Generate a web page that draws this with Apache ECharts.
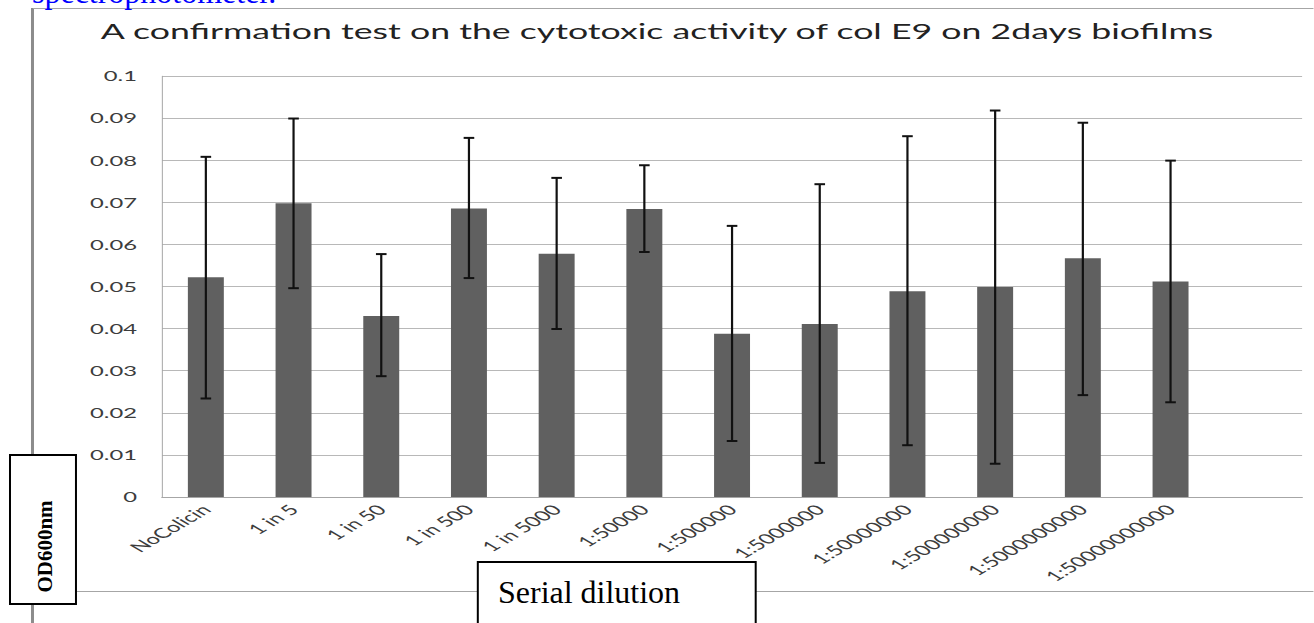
<!DOCTYPE html>
<html>
<head>
<meta charset="utf-8">
<title>Cytotoxic activity of col E9 on 2-day biofilms</title>
<script src="https://cdn.jsdelivr.net/npm/echarts@6/dist/echarts.min.js"></script>
<style>
  html, body { margin: 0; padding: 0; background: #ffffff; overflow: hidden; }
  #page { position: relative; width: 1314px; height: 623px; overflow: hidden; }
  /* the embedded chart is stretched horizontally, as in the source document */
  #chart { position: absolute; left: 0; top: 0; height: 623px; transform-origin: 0 0; }
</style>
</head>
<body>
<div id="page"><div id="chart"></div></div>
<script>
// Dilution series tested against 2-day biofilms
const categories = ['NoColicin', '1 in 5', '1 in 50', '1 in 500', '1 in 5000', '1:50000',
  '1:500000', '1:5000000', '1:50000000', '1:500000000', '1:5000000000', '1:50000000000'];

// Mean OD600 per dilution
const meanOD = [0.0522, 0.0698, 0.0430, 0.0685, 0.0578, 0.0684,
  0.0388, 0.0411, 0.0489, 0.0499, 0.0567, 0.0512];

// Error bar ends (lower / upper)
const errLow  = [0.0234, 0.0496, 0.0287, 0.0520, 0.0399, 0.0582,
  0.0133, 0.0081, 0.0123, 0.0079, 0.0242, 0.0225];
const errHigh = [0.0808, 0.0899, 0.0577, 0.0853, 0.0758, 0.0788,
  0.0644, 0.0743, 0.0857, 0.0918, 0.0889, 0.0799];

const yTickLabels = ['0', '0.01', '0.02', '0.03', '0.04', '0.05', '0.06', '0.07', '0.08', '0.09', '0.1'];

const titleText = 'A confirmation test on the cytotoxic activity of col E9 on 2days biofilms';

// horizontal stretch of the embedded chart
const K = 1.7;
const W = 1314, H = 623;

const el = document.getElementById('chart');
el.style.width = (W / K) + 'px';
el.style.transform = 'scaleX(' + K + ')';

const chart = echarts.init(el, null, { renderer: 'svg' });

const errData = categories.map((c, i) => [i, errLow[i], errHigh[i]]);
const capHalf = 5.3 / K;

const font = 'Lato, "Open Sans", sans-serif';
const serif = '"Liberation Serif", "Times New Roman", serif';

chart.setOption({
  backgroundColor: '#ffffff',
  animation: false,
  title: {
    text: titleText,
    left: 'center',
    top: 15,
    textStyle: { fontFamily: font, fontSize: 21, fontWeight: 'normal', color: '#222222' }
  },
  grid: { left: 162 / K, right: 12 / K, top: 76, bottom: 126, containLabel: false },
  xAxis: {
    type: 'category',
    data: categories.concat(['']),
    axisLine: { lineStyle: { color: '#a6a6a6', width: 1 } },
    axisTick: { show: false },
    axisLabel: {
      interval: 0, rotate: 45, margin: 10,
      fontFamily: font, fontSize: 14, color: '#3c3c3c'
    }
  },
  yAxis: {
    type: 'value',
    min: 0, max: 0.1, interval: 0.01,
    axisLine: { show: true, lineStyle: { color: '#a6a6a6', width: 1 / K } },
    axisTick: { show: false },
    splitLine: { lineStyle: { color: '#b8b8b8', width: 1 } },
    axisLabel: {
      margin: 25 / K, fontFamily: font, fontSize: 14, color: '#3c3c3c',
      formatter: (v, idx) => yTickLabels[idx]
    }
  },
  series: [
    {
      type: 'bar',
      data: meanOD,
      barWidth: '41%',
      itemStyle: { color: '#606060' }
    },
    {
      type: 'custom',
      data: errData,
      encode: { x: 0, y: [1, 2] },
      z: 5,
      renderItem: (params, api) => {
        const i = api.value(0);
        const lo = api.coord([i, api.value(1)]);
        const hi = api.coord([i, api.value(2)]);
        const stroke = '#111111';
        return {
          type: 'group',
          children: [
            { type: 'line', shape: { x1: lo[0], y1: lo[1], x2: hi[0], y2: hi[1] },
              style: { stroke, lineWidth: 2.2 / K } },
            { type: 'line', shape: { x1: hi[0] - capHalf, y1: hi[1], x2: hi[0] + capHalf, y2: hi[1] },
              style: { stroke, lineWidth: 2 } },
            { type: 'line', shape: { x1: lo[0] - capHalf, y1: lo[1], x2: lo[0] + capHalf, y2: lo[1] },
              style: { stroke, lineWidth: 2 } }
          ]
        };
      }
    }
  ],
  graphic: {
    elements: [
      {
        // page elements drawn at natural proportions (undo the chart stretch)
        type: 'group',
        x: 0, y: 0, scaleX: 1 / K, z: 100,
        children: [
          { type: 'rect', shape: { x: 31, y: 8, width: 3, height: 620 },
            style: { fill: '#8c8c8c' } },
          { type: 'line', shape: { x1: 33, y1: 8.5, x2: W, y2: 8.5 },
            style: { stroke: '#a6a6a6', lineWidth: 1 } },
          { type: 'line', shape: { x1: 33, y1: 591.5, x2: W, y2: 591.5 },
            style: { stroke: '#a6a6a6', lineWidth: 1 } },
          { type: 'text', x: 32, y: -8.5,
            style: { text: 'spectrophotometer.', fill: '#0000ff', fontFamily: serif, fontSize: 32,
              align: 'left', verticalAlign: 'middle', textAlign: 'left', textVerticalAlign: 'middle' } },
          { type: 'rect', shape: { x: 10, y: 455, width: 66, height: 149 },
            style: { fill: '#ffffff', stroke: '#000000', lineWidth: 2 } },
          { type: 'text', x: 44.7, y: 546.5, rotation: Math.PI / 2,
            style: { text: 'OD600nm', fill: '#000000', fontFamily: serif, fontSize: 21, fontWeight: 'bold',
              align: 'center', verticalAlign: 'middle', textAlign: 'center', textVerticalAlign: 'middle' } },
          { type: 'rect', shape: { x: 478, y: 562, width: 278, height: 90 },
            style: { fill: '#ffffff', stroke: '#000000', lineWidth: 2 } },
          { type: 'text', x: 498, y: 592,
            style: { text: 'Serial dilution', fill: '#000000', fontFamily: serif, fontSize: 32,
              align: 'left', verticalAlign: 'middle', textAlign: 'left', textVerticalAlign: 'middle' } }
        ]
      }
    ]
  }
});
</script>
</body>
</html>
